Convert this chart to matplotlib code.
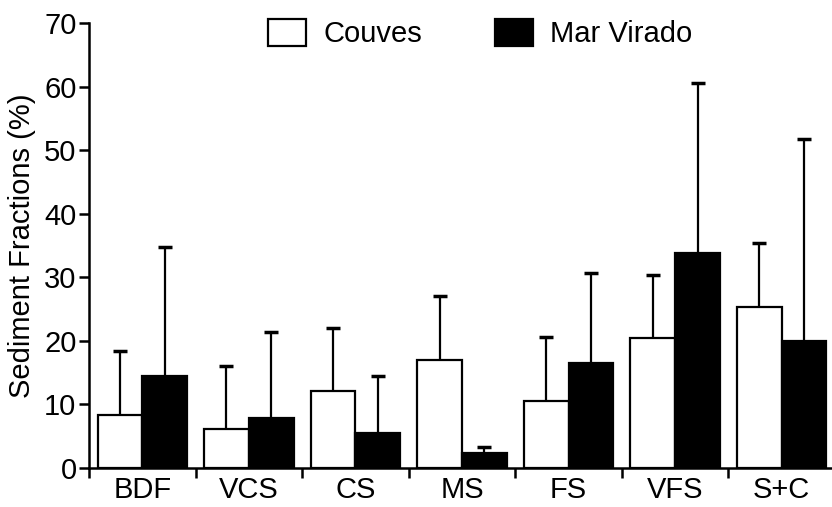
import matplotlib.pyplot as plt
import numpy as np

plt.rcParams['font.family'] = ['Liberation Sans', 'DejaVu Sans']

categories = ["BDF", "VCS", "CS", "MS", "FS", "VFS", "S+C"]
couves_mean = [8.4, 6.1, 12.1, 17.0, 10.5, 20.4, 25.3]
couves_sd = [10.0, 10.0, 9.9, 10.0, 10.1, 10.0, 10.1]
marvirado_mean = [14.4, 7.8, 5.5, 2.3, 16.5, 33.8, 19.9]
marvirado_sd = [20.3, 13.6, 8.9, 1.0, 14.2, 26.7, 31.8]

fig = plt.figure(figsize=(8.32, 5.07), dpi=100)
ax = fig.add_axes([89 / 832, 1 - 468 / 507, 746 / 832, 445 / 507])

x = np.arange(len(categories))
w = 0.42

ax.bar(x - w / 2, couves_mean, w, color='white', edgecolor='black',
       linewidth=1.6, label="Couves", zorder=2)
ax.bar(x + w / 2, marvirado_mean, w, color='black', edgecolor='black',
       linewidth=1.6, label="Mar Virado", zorder=2)

# only the upper half of each error bar is drawn
zeros = np.zeros(len(categories))
for xs, m, sd in [(x - w / 2, couves_mean, couves_sd),
                  (x + w / 2, marvirado_mean, marvirado_sd)]:
    eb = ax.errorbar(xs, m, yerr=[zeros, sd], fmt='none', ecolor='black',
                     elinewidth=1.6, capsize=5, capthick=2.5, zorder=3)
    eb[1][0].set_visible(False)

ax.set_xlim(-0.5, len(categories) - 0.5)
ax.set_ylim(0, 70)
ax.set_yticks(np.arange(0, 71, 10))
ax.set_xticks(x)
ax.set_xticklabels(categories)
ax.set_xticks(np.arange(-0.5, len(categories), 1), minor=True)
ax.tick_params(axis='x', which='major', length=0, pad=6, labelsize=21)
ax.tick_params(axis='x', which='minor', length=7, width=1.8, direction='out')
ax.tick_params(axis='y', length=7, width=1.8, pad=2, labelsize=21)
ax.set_ylabel("Sediment Fractions (%)", fontsize=21, labelpad=6)

for side in ['top', 'right']:
    ax.spines[side].set_visible(False)
for side in ['left', 'bottom']:
    ax.spines[side].set_linewidth(1.8)
ax.spines['bottom'].set_zorder(4)

fig.legend(loc='upper left', bbox_to_anchor=(268 / 832, 1 - 19 / 507),
           ncol=2, frameon=False, fontsize=21, handlelength=1.3,
           handleheight=1.05, handletextpad=0.6, columnspacing=2.5,
           borderpad=0, borderaxespad=0)

fig.savefig("out.png", dpi=100)
